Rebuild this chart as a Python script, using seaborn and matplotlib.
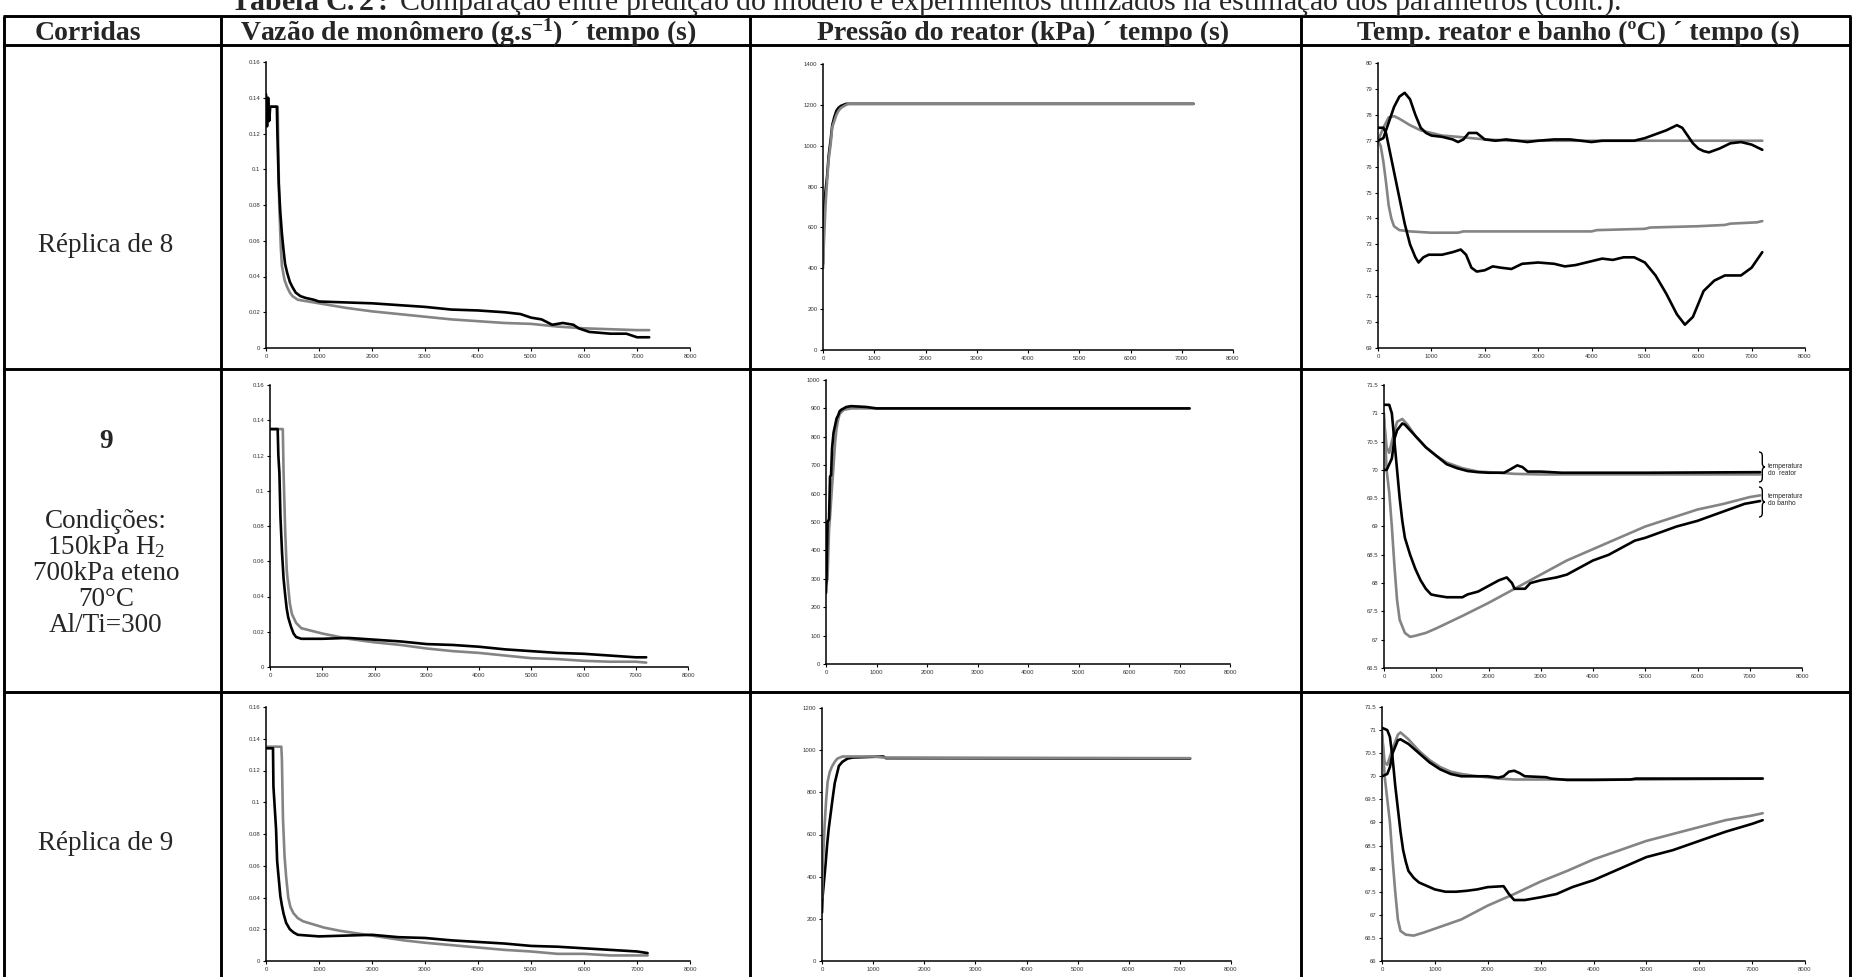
import matplotlib
matplotlib.use("Agg")
import matplotlib.pyplot as plt
from matplotlib.lines import Line2D
from matplotlib.path import Path
from matplotlib.patches import PathPatch
import pandas as pd
import seaborn as sns

# ---------------- readings (time in s) ----------------
# Réplica de 8 -- monomer flow (g/s)
r8_flow_t_exp = [0, 20, 40, 60, 80, 100, 140, 205, 215, 240, 270, 300, 330, 360, 400, 450, 500, 560, 650, 750, 900,
                 1000, 1500, 2000, 2500, 3000, 3500, 4000, 4500, 4800, 5000, 5200, 5400, 5600, 5800, 5900, 6100,
                 6500, 6800, 7000, 7230]
r8_flow_exp = [0.142, 0.124, 0.14, 0.127, 0.135, 0.135, 0.135, 0.135, 0.12, 0.092, 0.076, 0.064, 0.055, 0.047,
               0.042, 0.037, 0.034, 0.031, 0.029, 0.028, 0.027, 0.026, 0.0255, 0.025, 0.024, 0.023, 0.0215,
               0.021, 0.020, 0.019, 0.017, 0.016, 0.013, 0.014, 0.013, 0.011, 0.009, 0.008, 0.008, 0.006, 0.006]
r8_flow_t_mod = [0, 220, 250, 280, 300, 350, 400, 450, 500, 600, 800, 1000, 1500, 2000, 2500, 3000, 3500, 4000,
                 4500, 5000, 5500, 6000, 6500, 7000, 7230]
r8_flow_mod = [0.135, 0.135, 0.08, 0.056, 0.046, 0.038, 0.034, 0.031, 0.029, 0.027, 0.026, 0.025, 0.0225, 0.0205,
               0.019, 0.0175, 0.016, 0.015, 0.014, 0.0135, 0.012, 0.011, 0.0105, 0.010, 0.010]

# Réplica de 8 -- reactor pressure (kPa)
r8_pres_t_exp = [0, 10, 30, 50, 80, 110, 150, 180, 220, 260, 300, 350, 450, 7230]
r8_pres_exp = [420, 600, 720, 780, 850, 950, 1030, 1100, 1140, 1170, 1185, 1195, 1205, 1205]
r8_pres_t_mod = [0, 20, 50, 80, 110, 150, 180, 220, 260, 300, 350, 450, 500, 7230]
r8_pres_mod = [400, 540, 710, 830, 930, 1010, 1090, 1120, 1150, 1170, 1185, 1200, 1205, 1205]

# Réplica de 8 -- reactor and bath temperature (°C)
r8_reat_t_exp = [0, 100, 200, 300, 400, 500, 600, 700, 800, 900, 1000, 1200, 1400, 1500, 1600, 1700, 1850, 2000,
                 2200, 2400, 2600, 2800, 3000, 3300, 3600, 3800, 4000, 4200, 4800, 5000, 5200, 5400, 5600, 5700,
                 5800, 5900, 6000, 6100, 6200, 6400, 6600, 6800, 7000, 7200]
r8_reat_exp = [77.0, 77.1, 77.7, 78.3, 78.7, 78.85, 78.6, 78.0, 77.5, 77.3, 77.2, 77.15, 77.05, 76.95, 77.05, 77.3,
               77.3, 77.05, 77.0, 77.05, 77.0, 76.95, 77.0, 77.05, 77.05, 77.0, 76.95, 77.0, 77.0, 77.1, 77.25,
               77.4, 77.6, 77.5, 77.2, 76.9, 76.7, 76.6, 76.55, 76.7, 76.9, 76.95, 76.85, 76.65]
r8_banho_t_exp = [0, 100, 150, 200, 300, 400, 500, 600, 700, 760, 850, 950, 1200, 1400, 1550, 1650, 1750, 1850,
                  2000, 2150, 2300, 2500, 2700, 3000, 3300, 3500, 3700, 4000, 4200, 4400, 4600, 4800, 5000, 5200,
                  5400, 5600, 5750, 5900, 6000, 6100, 6300, 6500, 6800, 7000, 7200]
r8_banho_exp = [77.5, 77.5, 77.3, 76.8, 75.8, 74.8, 73.8, 73.0, 72.5, 72.3, 72.5, 72.6, 72.6, 72.7, 72.8, 72.6,
                72.1, 71.95, 72.0, 72.15, 72.1, 72.05, 72.25, 72.3, 72.25, 72.15, 72.2, 72.35, 72.45, 72.4, 72.5,
                72.5, 72.3, 71.8, 71.1, 70.3, 69.9, 70.2, 70.7, 71.2, 71.6, 71.8, 71.8, 72.1, 72.7]
r8_reat_t_mod = [0, 100, 200, 300, 400, 600, 800, 1000, 1200, 1500, 2000, 2500, 7200]
r8_reat_mod = [77.0, 77.5, 77.9, 77.95, 77.85, 77.6, 77.4, 77.3, 77.2, 77.15, 77.05, 77.0, 77.0]
r8_banho_t_mod = [0, 50, 100, 150, 200, 250, 300, 400, 600, 1000, 1500, 1600, 4000, 4100, 5000, 5100, 6000, 6500,
                  6600, 7100, 7200]
r8_banho_mod = [77.0, 76.8, 76.2, 75.4, 74.5, 74.0, 73.7, 73.55, 73.5, 73.45, 73.45, 73.5, 73.5, 73.55, 73.6,
                73.65, 73.7, 73.75, 73.8, 73.85, 73.9]

# Corrida 9 -- monomer flow (g/s)
c9_flow_t_exp = [0, 147, 160, 180, 200, 230, 260, 290, 320, 350, 400, 450, 500, 600, 1000, 1500, 2000, 2500, 3000,
                 3500, 4000, 4500, 5000, 5500, 6000, 6500, 7000, 7200]
c9_flow_exp = [0.135, 0.135, 0.12, 0.11, 0.085, 0.065, 0.05, 0.041, 0.033, 0.028, 0.023, 0.019, 0.017, 0.016,
               0.016, 0.0165, 0.0155, 0.0145, 0.013, 0.0125, 0.0115, 0.010, 0.009, 0.008, 0.0075, 0.0065, 0.0055,
               0.0055]
c9_flow_t_mod = [0, 245, 260, 290, 320, 350, 380, 420, 500, 600, 800, 1000, 1500, 2000, 2500, 3000, 3500, 4000,
                 4500, 5000, 5500, 6000, 6500, 7000, 7200]
c9_flow_mod = [0.135, 0.135, 0.11, 0.078, 0.055, 0.045, 0.036, 0.03, 0.025, 0.022, 0.0205, 0.019, 0.016, 0.014,
               0.0125, 0.0105, 0.009, 0.008, 0.0065, 0.005, 0.0045, 0.0035, 0.003, 0.003, 0.0025]

# Corrida 9 -- reactor pressure (kPa)
c9_pres_t_exp = [0, 10, 30, 60, 80, 100, 120, 150, 180, 210, 240, 270, 300, 400, 500, 800, 1000, 7200]
c9_pres_exp = [250, 300, 500, 510, 660, 665, 760, 815, 840, 865, 875, 890, 895, 905, 908, 905, 900, 900]
c9_pres_t_mod = [0, 30, 60, 90, 120, 150, 180, 210, 240, 270, 350, 500, 7200]
c9_pres_mod = [280, 300, 470, 545, 625, 700, 780, 830, 860, 880, 895, 900, 900]

# Corrida 9 -- reactor and bath temperature (°C)
c9_reat_t_exp = [0, 50, 100, 150, 200, 250, 350, 400, 500, 600, 700, 800, 1000, 1200, 1400, 1600, 1800, 2000,
                 2300, 2400, 2550, 2650, 2750, 3000, 3400, 5000, 7200]
c9_reat_exp = [70.0, 70.0, 70.1, 70.2, 70.55, 70.7, 70.82, 70.8, 70.7, 70.6, 70.5, 70.4, 70.25, 70.1, 70.03,
               69.98, 69.96, 69.95, 69.95, 70.0, 70.08, 70.05, 69.97, 69.97, 69.95, 69.95, 69.96]
c9_banho_t_exp = [0, 100, 150, 200, 250, 300, 350, 400, 500, 600, 700, 800, 900, 1000, 1200, 1500, 1600, 1800,
                  2000, 2200, 2350, 2450, 2500, 2700, 2800, 3000, 3300, 3500, 3800, 4000, 4300, 4600, 4800, 5000,
                  5300, 5600, 6000, 6300, 6600, 6900, 7200]
c9_banho_exp = [71.15, 71.15, 71.0, 70.5, 70.0, 69.5, 69.1, 68.8, 68.5, 68.25, 68.05, 67.9, 67.8, 67.78, 67.75,
                67.75, 67.8, 67.85, 67.95, 68.05, 68.1, 68.0, 67.9, 67.9, 68.0, 68.05, 68.1, 68.15, 68.3, 68.4,
                68.5, 68.65, 68.75, 68.8, 68.9, 69.0, 69.1, 69.2, 69.3, 69.4, 69.45]
c9_reat_t_mod = [0, 50, 100, 150, 250, 350, 450, 600, 800, 1000, 1200, 1500, 1800, 2200, 2500, 3000, 7200]
c9_reat_mod = [70.9, 70.4, 70.3, 70.5, 70.85, 70.9, 70.8, 70.6, 70.4, 70.25, 70.13, 70.03, 69.97, 69.95, 69.93,
               69.92, 69.92]
c9_banho_t_mod = [0, 50, 100, 150, 200, 250, 300, 400, 500, 600, 800, 1000, 1500, 2000, 2500, 3000, 3500, 4000,
                  4500, 5000, 5500, 6000, 6500, 7000, 7200]
c9_banho_mod = [71.0, 70.0, 69.6, 69.0, 68.3, 67.7, 67.35, 67.12, 67.05, 67.07, 67.12, 67.2, 67.42, 67.65, 67.9,
                68.15, 68.4, 68.6, 68.8, 69.0, 69.15, 69.3, 69.4, 69.52, 69.55]

# Réplica de 9 -- monomer flow (g/s)
r9_flow_t_exp = [0, 132, 140, 190, 210, 240, 270, 300, 330, 380, 450, 520, 600, 800, 1000, 1500, 2000, 2500, 3000,
                 3500, 4000, 4500, 5000, 5500, 6000, 6500, 7000, 7200]
r9_flow_exp = [0.134, 0.134, 0.11, 0.083, 0.063, 0.052, 0.041, 0.035, 0.03, 0.024, 0.02, 0.018, 0.0165, 0.016,
               0.0155, 0.016, 0.0165, 0.015, 0.0145, 0.013, 0.012, 0.011, 0.0095, 0.009, 0.008, 0.007, 0.006,
               0.005]
r9_flow_t_mod = [0, 289, 300, 320, 350, 380, 420, 460, 520, 600, 700, 900, 1100, 1400, 1800, 2200, 2600, 3000,
                 3500, 4000, 4500, 5000, 5500, 6000, 6500, 7200]
r9_flow_mod = [0.135, 0.135, 0.127, 0.09, 0.066, 0.053, 0.04, 0.034, 0.03, 0.027, 0.025, 0.023, 0.021, 0.019,
               0.017, 0.015, 0.013, 0.0115, 0.01, 0.0085, 0.007, 0.006, 0.0045, 0.0045, 0.0035, 0.0035]

# Réplica de 9 -- reactor pressure (kPa)
r9_pres_t_exp = [0, 10, 40, 70, 100, 130, 170, 210, 250, 300, 330, 400, 500, 600, 1200, 1250, 7200]
r9_pres_exp = [230, 300, 380, 460, 550, 625, 700, 775, 845, 895, 925, 945, 960, 965, 970, 962, 960]
r9_pres_t_mod = [0, 20, 50, 80, 110, 150, 190, 250, 300, 400, 1000, 1200, 7200]
r9_pres_mod = [300, 480, 640, 760, 850, 895, 920, 945, 960, 970, 970, 965, 962]

# Réplica de 9 -- reactor and bath temperature (°C)
r9_reat_t_exp = [0, 100, 150, 200, 300, 350, 500, 700, 900, 1100, 1300, 1500, 2000, 2200, 2300, 2400, 2500, 2600,
                 2700, 3100, 3200, 3500, 4000, 4700, 4800, 7200]
r9_reat_exp = [70.0, 70.05, 70.2, 70.5, 70.78, 70.8, 70.7, 70.5, 70.3, 70.15, 70.05, 70.0, 70.0, 69.97, 70.0,
               70.1, 70.12, 70.07, 70.0, 69.98, 69.95, 69.92, 69.92, 69.93, 69.95, 69.95]
r9_banho_t_exp = [0, 100, 150, 200, 250, 300, 350, 400, 450, 500, 600, 700, 800, 1000, 1200, 1400, 1600, 1800,
                  2000, 2300, 2400, 2500, 2700, 3000, 3300, 3600, 4000, 4300, 4600, 5000, 5500, 6000, 6500, 7000,
                  7200]
r9_banho_exp = [71.05, 71.0, 70.85, 70.4, 69.8, 69.3, 68.8, 68.4, 68.15, 67.95, 67.8, 67.7, 67.65, 67.55, 67.5,
                67.5, 67.52, 67.55, 67.6, 67.62, 67.45, 67.32, 67.32, 67.38, 67.45, 67.6, 67.75, 67.9, 68.05, 68.25,
                68.4, 68.6, 68.8, 68.97, 69.05]
r9_reat_t_mod = [0, 50, 100, 200, 300, 350, 500, 700, 900, 1100, 1300, 1500, 1800, 2200, 2500, 5000, 7200]
r9_reat_mod = [70.9, 70.3, 70.25, 70.6, 70.9, 70.95, 70.8, 70.55, 70.35, 70.2, 70.1, 70.05, 70.0, 69.95, 69.93,
               69.93, 69.95]
r9_banho_t_mod = [0, 50, 100, 150, 200, 250, 300, 350, 450, 600, 800, 1000, 1500, 2000, 2500, 3000, 3500, 4000,
                  4500, 5000, 5500, 6000, 6500, 7000, 7200]
r9_banho_mod = [71.0, 70.0, 69.5, 69.0, 68.2, 67.5, 66.9, 66.65, 66.57, 66.55, 66.62, 66.7, 66.9, 67.2, 67.45,
                67.72, 67.95, 68.2, 68.4, 68.6, 68.75, 68.9, 69.05, 69.15, 69.2]

# ---------------- table text ----------------
title_rest = "Comparação entre predição do modelo e experimentos utilizados na estimação dos parâmetros (cont.)."
headers = ["Corridas",
           r"Vazão de monômero (g.s$^{\mathbf{-1}}$) ´ tempo (s)",
           "Pressão do reator (kPa) ´ tempo (s)",
           "Temp. reator e banho (ºC) ´ tempo (s)"]
run_label_r8 = "Réplica de 8"
run_label_9 = "9"
run_conditions_9 = ["Condições:", r"150kPa H$_{\mathrm{2}}$", "700kPa eteno", "70°C", "Al/Ti=300"]
run_label_r9 = "Réplica de 9"
brace_labels = ["temperatura\ndo  reator", "temperatura\ndo banho"]

x_ticks = list(range(0, 8001, 1000))
flow_ticks = [0, 0.02, 0.04, 0.06, 0.08, 0.1, 0.12, 0.14, 0.16]
pres_ticks_r8 = list(range(0, 1401, 200))
pres_ticks_9 = list(range(0, 1001, 100))
pres_ticks_r9 = list(range(0, 1201, 200))
temp_ticks_r8 = list(range(69, 81))
temp_ticks_9 = [66.5, 67, 67.5, 68, 68.5, 69, 69.5, 70, 70.5, 71, 71.5]
temp_ticks_r9 = [66, 66.5, 67, 67.5, 68, 68.5, 69, 69.5, 70, 70.5, 71, 71.5]

# ---------------- style ----------------
sns.set_style("ticks")
plt.rcParams["font.family"] = ["Liberation Serif", "DejaVu Serif"]
plt.rcParams["mathtext.fontset"] = "custom"
plt.rcParams["mathtext.rm"] = "Liberation Serif"
plt.rcParams["mathtext.it"] = "Liberation Serif:italic"
plt.rcParams["mathtext.bf"] = "Liberation Serif:bold"

W, H = 1854, 977
BLACK = "#000000"
GRAY = "#848484"
TABLE_LW = 2.1

fig = plt.figure(figsize=(W / 100, H / 100), dpi=100)
fig.patch.set_facecolor("white")


def px_rect(x0, y0, x1, y1):
    return [x0 / W, 1 - y1 / H, (x1 - x0) / W, (y1 - y0) / H]


def hline(y, x0=3, x1=1851):
    fig.add_artist(Line2D([x0 / W, x1 / W], [1 - y / H, 1 - y / H], transform=fig.transFigure,
                          color="black", lw=TABLE_LW, solid_capstyle="butt"))


def vline(x, y0=16, y1=977):
    fig.add_artist(Line2D([x / W, x / W], [1 - y0 / H, 1 - y1 / H], transform=fig.transFigure,
                          color="black", lw=TABLE_LW, solid_capstyle="butt"))


def curly_brace(x, y0, y1, depth=6):
    """Right-facing curly brace between pixel rows y0 (top) and y1 (bottom) at pixel column x."""
    ym = (y0 + y1) / 2
    xs = x + depth * 0.55
    pts = [(x, y0), (xs, y0), (xs, y0 + 4),
           (xs, ym - 4), (xs, ym), (x + depth, ym),
           (xs, ym), (xs, ym + 4),
           (xs, y1 - 4), (xs, y1), (x, y1)]
    codes = [Path.MOVETO, Path.CURVE3, Path.CURVE3,
             Path.LINETO, Path.CURVE3, Path.CURVE3,
             Path.CURVE3, Path.CURVE3,
             Path.LINETO, Path.CURVE3, Path.CURVE3]
    verts = [(px / W, 1 - py / H) for px, py in pts]
    fig.add_artist(PathPatch(Path(verts, codes), transform=fig.transFigure, fill=False,
                             edgecolor="black", lw=1.0))


def series(ax, t, v, color):
    df = pd.DataFrame({"t": t, "v": v})
    sns.lineplot(data=df, x="t", y="v", ax=ax, color=color, linewidth=1.9, sort=False,
                 estimator=None, legend=False)


def panel(rect, ylim, yticks, curves):
    ax = fig.add_axes(px_rect(*rect))
    for t, v, c in curves:
        series(ax, t, v, c)
    ax.set_xlim(0, 8000)
    ax.set_ylim(*ylim)
    ax.set_xticks(x_ticks)
    ax.set_xticklabels([f"{x:g}" for x in x_ticks])
    ax.set_yticks(yticks)
    ax.set_yticklabels([f"{y:g}" for y in yticks])
    ax.set_xlabel("")
    ax.set_ylabel("")
    for s in ("top", "right"):
        ax.spines[s].set_visible(False)
    for s in ("left", "bottom"):
        ax.spines[s].set_linewidth(1.1)
        ax.spines[s].set_color("black")
    ax.tick_params(axis="both", length=2.5, width=0.8, pad=1.5, labelsize=4.3, colors="black",
                   labelcolor="#333333")
    for lab in ax.get_xticklabels() + ax.get_yticklabels():
        lab.set_family("Liberation Sans")
    ax.patch.set_alpha(0)
    return ax


# ---------------- panels ----------------
panel((266, 62, 690, 348), (0, 0.16), flow_ticks,
      [(r8_flow_t_mod, r8_flow_mod, GRAY), (r8_flow_t_exp, r8_flow_exp, BLACK)])
panel((823, 64, 1233, 350), (0, 1400), pres_ticks_r8,
      [(r8_pres_t_exp, r8_pres_exp, BLACK), (r8_pres_t_mod, r8_pres_mod, GRAY)])
panel((1378, 63, 1805, 348), (69, 80), temp_ticks_r8,
      [(r8_reat_t_mod, r8_reat_mod, GRAY), (r8_banho_t_mod, r8_banho_mod, GRAY),
       (r8_reat_t_exp, r8_reat_exp, BLACK), (r8_banho_t_exp, r8_banho_exp, BLACK)])

panel((270, 385, 688, 667), (0, 0.16), flow_ticks,
      [(c9_flow_t_mod, c9_flow_mod, GRAY), (c9_flow_t_exp, c9_flow_exp, BLACK)])
panel((826, 380, 1230, 664), (0, 1000), pres_ticks_9,
      [(c9_pres_t_mod, c9_pres_mod, GRAY), (c9_pres_t_exp, c9_pres_exp, BLACK)])
ax_t9 = panel((1384, 385, 1802, 668), (66.5, 71.5), temp_ticks_9,
              [(c9_reat_t_mod, c9_reat_mod, GRAY), (c9_banho_t_mod, c9_banho_mod, GRAY),
               (c9_reat_t_exp, c9_reat_exp, BLACK), (c9_banho_t_exp, c9_banho_exp, BLACK)])

panel((266, 707, 690, 961), (0, 0.16), flow_ticks,
      [(r9_flow_t_mod, r9_flow_mod, GRAY), (r9_flow_t_exp, r9_flow_exp, BLACK)])
panel((822, 708, 1231, 961), (0, 1200), pres_ticks_r9,
      [(r9_pres_t_exp, r9_pres_exp, BLACK), (r9_pres_t_mod, r9_pres_mod, GRAY)])
panel((1382, 707, 1805, 961), (66, 71.5), temp_ticks_r9,
      [(r9_reat_t_mod, r9_reat_mod, GRAY), (r9_banho_t_mod, r9_banho_mod, GRAY),
       (r9_reat_t_exp, r9_reat_exp, BLACK), (r9_banho_t_exp, r9_banho_exp, BLACK)])

# braces marking reactor and bath curves, with their labels
curly_brace(1759, 452, 482)
curly_brace(1759, 487, 517)
for yc, label in zip([0.700, 0.593], brace_labels):
    ax_t9.text(0.918, yc, label, transform=ax_t9.transAxes, fontsize=4.8,
               family="Liberation Sans", va="center", ha="left", linespacing=1.0, clip_on=True)

# ---------------- table grid ----------------
hline(16)
hline(45)
hline(369)
hline(692)
for xv in (4, 221, 750, 1301, 1850):
    vline(xv)

# ---------------- text ----------------
fig.text(925 / W, 1 - 10 / H, r"$\mathbf{Tabela\ C.2:}$ " + title_rest, ha="center", va="baseline",
         fontsize=21.5)
header_centers = [88, 468, 1023, 1578]
for xc, h in zip(header_centers, headers):
    fig.text(xc / W, 1 - 33 / H, h, ha="center", va="center", fontsize=20, fontweight="bold")

LEFT_X = 106
fig.text(LEFT_X / W, 1 - 246 / H, run_label_r8, ha="center", va="center", fontsize=19.5)
fig.text(LEFT_X / W, 1 - 442 / H, run_label_9, ha="center", va="center", fontsize=19.5, fontweight="bold")
for i, line in enumerate(run_conditions_9):
    fig.text(LEFT_X / W, 1 - (521 + 26 * i) / H, line, ha="center", va="center", fontsize=19.5)
fig.text(LEFT_X / W, 1 - 843 / H, run_label_r9, ha="center", va="center", fontsize=19.5)

fig.savefig("out.png", dpi=100, facecolor="white")
